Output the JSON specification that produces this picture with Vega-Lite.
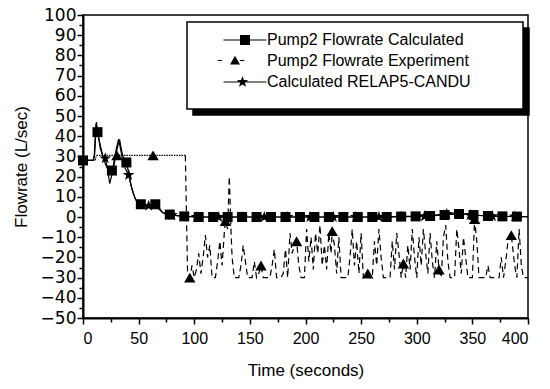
{
  "$schema": "https://vega.github.io/schema/vega-lite/v6.json",
  "width": 445,
  "height": 303,
  "autosize": {"type": "none"},
  "padding": {"left": 83, "top": 15, "right": 22, "bottom": 71},
  "config": {
    "view": {"stroke": "black", "strokeWidth": 1.5},
    "font": "Liberation Sans",
    "legend": {"strokeWidth": 1.5}
  },
  "datasets": {
    "names": [
      {"s": "Pump2 Flowrate Calculated"},
      {"s": "Pump2 Flowrate Experiment"},
      {"s": "Calculated RELAP5-CANDU"}
    ],
    "calc": [
      {"t": 0, "v": 28, "m": 1}, {"t": 5, "v": 28, "m": 0}, {"t": 9, "v": 28, "m": 0}, {"t": 10, "v": 29, "m": 0},
      {"t": 11, "v": 40, "m": 0}, {"t": 11.7, "v": 46, "m": 0}, {"t": 13, "v": 42, "m": 1}, {"t": 15, "v": 37, "m": 0},
      {"t": 17, "v": 32, "m": 0}, {"t": 19, "v": 28, "m": 0}, {"t": 21, "v": 25, "m": 0}, {"t": 23, "v": 23.5, "m": 0},
      {"t": 26, "v": 23, "m": 1}, {"t": 28, "v": 26, "m": 0}, {"t": 30, "v": 32, "m": 0}, {"t": 32, "v": 37, "m": 0},
      {"t": 33, "v": 38, "m": 0}, {"t": 35, "v": 32, "m": 0}, {"t": 37, "v": 28, "m": 0}, {"t": 39, "v": 27, "m": 1},
      {"t": 41, "v": 22, "m": 0}, {"t": 43, "v": 16, "m": 0}, {"t": 45, "v": 12, "m": 0}, {"t": 47, "v": 9, "m": 0},
      {"t": 49, "v": 7, "m": 0}, {"t": 52, "v": 6.3, "m": 1}, {"t": 56, "v": 6, "m": 0}, {"t": 60, "v": 6, "m": 0},
      {"t": 63, "v": 6.3, "m": 0}, {"t": 65, "v": 6.3, "m": 1}, {"t": 67, "v": 6, "m": 0}, {"t": 69, "v": 4, "m": 0},
      {"t": 71, "v": 2.5, "m": 0}, {"t": 74, "v": 1.5, "m": 0}, {"t": 78, "v": 1.2, "m": 1}, {"t": 84, "v": 0.7, "m": 0},
      {"t": 91, "v": 0.3, "m": 1}, {"t": 104, "v": 0, "m": 1}, {"t": 117, "v": 0, "m": 1}, {"t": 130, "v": 0, "m": 1},
      {"t": 143, "v": 0, "m": 1}, {"t": 156, "v": 0, "m": 1}, {"t": 169, "v": 0, "m": 1}, {"t": 182, "v": 0, "m": 1},
      {"t": 195, "v": 0, "m": 1}, {"t": 208, "v": 0, "m": 1}, {"t": 221, "v": 0, "m": 1}, {"t": 234, "v": 0, "m": 1},
      {"t": 247, "v": 0, "m": 1}, {"t": 260, "v": 0, "m": 1}, {"t": 273, "v": 0, "m": 1}, {"t": 286, "v": 0.2, "m": 1},
      {"t": 299, "v": 0.3, "m": 1}, {"t": 312, "v": 0.5, "m": 1}, {"t": 325, "v": 1, "m": 1}, {"t": 338, "v": 1.5, "m": 1},
      {"t": 351, "v": 1, "m": 1}, {"t": 364, "v": 0.5, "m": 1}, {"t": 377, "v": 0.3, "m": 1}, {"t": 390, "v": 0.2, "m": 1},
      {"t": 400, "v": 0.2, "m": 0}
    ],
    "relap": [
      {"t": 0, "v": 28, "m": 0}, {"t": 9, "v": 28, "m": 0}, {"t": 10.5, "v": 31, "m": 0}, {"t": 12, "v": 47, "m": 0},
      {"t": 13.5, "v": 41, "m": 0}, {"t": 15.5, "v": 34, "m": 0}, {"t": 18, "v": 30, "m": 0}, {"t": 20, "v": 29, "m": 1},
      {"t": 22, "v": 24, "m": 0}, {"t": 24, "v": 16.5, "m": 0}, {"t": 26, "v": 21, "m": 0}, {"t": 28, "v": 28, "m": 0},
      {"t": 30, "v": 34, "m": 0}, {"t": 32, "v": 38.5, "m": 0}, {"t": 34, "v": 33, "m": 0}, {"t": 36, "v": 27, "m": 0},
      {"t": 38, "v": 24, "m": 0}, {"t": 41, "v": 20.8, "m": 1}, {"t": 44, "v": 14, "m": 0}, {"t": 47, "v": 9, "m": 0},
      {"t": 50, "v": 6.5, "m": 0}, {"t": 54, "v": 5.8, "m": 0}, {"t": 59, "v": 5.5, "m": 1}, {"t": 63, "v": 6.2, "m": 0},
      {"t": 66, "v": 5.5, "m": 0}, {"t": 69, "v": 3.5, "m": 0}, {"t": 72, "v": 2, "m": 0}, {"t": 80, "v": 1, "m": 1},
      {"t": 90, "v": 0.4, "m": 0}, {"t": 102, "v": 0, "m": 1}, {"t": 122, "v": 0, "m": 1}, {"t": 143, "v": 0, "m": 1},
      {"t": 163, "v": 0, "m": 1}, {"t": 184, "v": 0, "m": 1}, {"t": 204, "v": 0, "m": 1}, {"t": 225, "v": 0, "m": 1},
      {"t": 245, "v": 0, "m": 1}, {"t": 266, "v": 0, "m": 1}, {"t": 286, "v": 0.2, "m": 1}, {"t": 307, "v": 0.4, "m": 1},
      {"t": 327, "v": 1.5, "m": 1}, {"t": 334, "v": 2, "m": 0}, {"t": 340, "v": 1.5, "m": 0}, {"t": 348, "v": 1, "m": 1},
      {"t": 368, "v": 0.4, "m": 1}, {"t": 388, "v": 0.2, "m": 1}, {"t": 400, "v": 0.2, "m": 0}
    ],
    "exp": [
      {"t": 0, "v": 28, "m": 0}, {"t": 11, "v": 28, "m": 0}, {"t": 12, "v": 30.5, "m": 0}, {"t": 30.5, "v": 30.5, "m": 1},
      {"t": 63, "v": 30.5, "m": 1}, {"t": 92, "v": 30.5, "m": 0}, {"t": 94, "v": -28, "m": 0}, {"t": 96, "v": -30, "m": 1},
      {"t": 98, "v": -24, "m": 0}, {"t": 100, "v": -30, "m": 0}, {"t": 102, "v": -26, "m": 0}, {"t": 104, "v": -18, "m": 0},
      {"t": 106, "v": -28, "m": 0}, {"t": 108, "v": -20, "m": 0}, {"t": 110, "v": -9, "m": 0}, {"t": 112, "v": -20, "m": 0},
      {"t": 114, "v": -14, "m": 0}, {"t": 116, "v": -30, "m": 0}, {"t": 119, "v": -30, "m": 0}, {"t": 121, "v": -22, "m": 0},
      {"t": 123, "v": -12, "m": 0}, {"t": 125, "v": -24, "m": 0}, {"t": 127, "v": -8, "m": 0}, {"t": 128, "v": -2, "m": 1},
      {"t": 130, "v": -6, "m": 0}, {"t": 131.5, "v": 20, "m": 0}, {"t": 133, "v": -6, "m": 0}, {"t": 134, "v": -20, "m": 0},
      {"t": 136, "v": -30, "m": 0}, {"t": 140, "v": -30, "m": 0}, {"t": 142, "v": -24, "m": 0}, {"t": 144, "v": -14, "m": 0},
      {"t": 146, "v": -22, "m": 0}, {"t": 148, "v": -30, "m": 0}, {"t": 152, "v": -30, "m": 0}, {"t": 154, "v": -22, "m": 0},
      {"t": 156, "v": -30, "m": 0}, {"t": 158, "v": -28, "m": 0}, {"t": 160, "v": -24, "m": 1}, {"t": 162, "v": -30, "m": 0},
      {"t": 168, "v": -30, "m": 0}, {"t": 170, "v": -24, "m": 0}, {"t": 172, "v": -16, "m": 0}, {"t": 174, "v": -30, "m": 0},
      {"t": 178, "v": -30, "m": 0}, {"t": 180, "v": -28, "m": 0}, {"t": 182, "v": -16, "m": 0}, {"t": 184, "v": -30, "m": 0},
      {"t": 186, "v": -8, "m": 0}, {"t": 188, "v": -18, "m": 0}, {"t": 190, "v": -14, "m": 0}, {"t": 192, "v": -12, "m": 1},
      {"t": 194, "v": -24, "m": 0}, {"t": 196, "v": -30, "m": 0}, {"t": 199, "v": -30, "m": 0}, {"t": 201, "v": -6, "m": 0},
      {"t": 203, "v": -22, "m": 0}, {"t": 205, "v": -10, "m": 0}, {"t": 207, "v": -26, "m": 0}, {"t": 209, "v": -8, "m": 0},
      {"t": 211, "v": -18, "m": 0}, {"t": 213, "v": -4, "m": 0}, {"t": 215, "v": -24, "m": 0}, {"t": 217, "v": -14, "m": 0},
      {"t": 219, "v": -26, "m": 0}, {"t": 221, "v": -8, "m": 0}, {"t": 223, "v": -18, "m": 0}, {"t": 224, "v": -7, "m": 1},
      {"t": 226, "v": -14, "m": 0}, {"t": 228, "v": -28, "m": 0}, {"t": 230, "v": -10, "m": 0}, {"t": 232, "v": -30, "m": 0},
      {"t": 238, "v": -30, "m": 0}, {"t": 240, "v": -20, "m": 0}, {"t": 242, "v": -6, "m": 0}, {"t": 244, "v": -24, "m": 0},
      {"t": 246, "v": -12, "m": 0}, {"t": 248, "v": -28, "m": 0}, {"t": 250, "v": -8, "m": 0}, {"t": 252, "v": -30, "m": 0},
      {"t": 256, "v": -28, "m": 1}, {"t": 258, "v": -30, "m": 0}, {"t": 260, "v": -30, "m": 0}, {"t": 262, "v": -12, "m": 0},
      {"t": 264, "v": -24, "m": 0}, {"t": 266, "v": -6, "m": 0}, {"t": 268, "v": -20, "m": 0}, {"t": 270, "v": -30, "m": 0},
      {"t": 276, "v": -30, "m": 0}, {"t": 278, "v": -12, "m": 0}, {"t": 280, "v": -26, "m": 0}, {"t": 282, "v": -8, "m": 0},
      {"t": 284, "v": -18, "m": 0}, {"t": 286, "v": -30, "m": 0}, {"t": 288, "v": -23, "m": 1}, {"t": 290, "v": -30, "m": 0},
      {"t": 292, "v": -14, "m": 0}, {"t": 294, "v": -26, "m": 0}, {"t": 296, "v": -6, "m": 0}, {"t": 298, "v": -20, "m": 0},
      {"t": 300, "v": -30, "m": 0}, {"t": 302, "v": -10, "m": 0}, {"t": 304, "v": -24, "m": 0}, {"t": 306, "v": -6, "m": 0},
      {"t": 308, "v": -18, "m": 0}, {"t": 310, "v": -28, "m": 0}, {"t": 312, "v": -8, "m": 0}, {"t": 314, "v": -22, "m": 0},
      {"t": 316, "v": -30, "m": 0}, {"t": 318, "v": -12, "m": 0}, {"t": 320, "v": -26, "m": 1}, {"t": 322, "v": -30, "m": 0},
      {"t": 324, "v": -10, "m": 0}, {"t": 326, "v": -4, "m": 0}, {"t": 328, "v": -22, "m": 0}, {"t": 330, "v": -30, "m": 0},
      {"t": 334, "v": -30, "m": 0}, {"t": 336, "v": -6, "m": 0}, {"t": 338, "v": -16, "m": 0}, {"t": 340, "v": -28, "m": 0},
      {"t": 342, "v": -10, "m": 0}, {"t": 344, "v": -20, "m": 0}, {"t": 346, "v": -30, "m": 0}, {"t": 350, "v": -30, "m": 0},
      {"t": 352, "v": -1, "m": 1}, {"t": 354, "v": -12, "m": 0}, {"t": 356, "v": -30, "m": 0}, {"t": 362, "v": -30, "m": 0},
      {"t": 364, "v": -24, "m": 0}, {"t": 366, "v": -30, "m": 0}, {"t": 374, "v": -30, "m": 0}, {"t": 376, "v": -20, "m": 0},
      {"t": 378, "v": -30, "m": 0}, {"t": 380, "v": -22, "m": 0}, {"t": 382, "v": -12, "m": 0}, {"t": 384, "v": -8, "m": 0},
      {"t": 385, "v": -9, "m": 1}, {"t": 386, "v": -14, "m": 0}, {"t": 388, "v": -24, "m": 0}, {"t": 390, "v": -30, "m": 0},
      {"t": 392, "v": -6, "m": 0}, {"t": 394, "v": -24, "m": 0}, {"t": 396, "v": -30, "m": 0}, {"t": 400, "v": -30, "m": 0}
    ]
  },
  "layer": [
    {
      "data": {"name": "names"},
      "mark": {"type": "point", "filled": true, "opacity": 0, "color": "black"},
      "encoding": {
        "shape": {
          "field": "s", "type": "nominal",
          "scale": {
            "domain": ["Pump2 Flowrate Calculated", "Pump2 Flowrate Experiment", "Calculated RELAP5-CANDU"],
            "range": [
              "M-4.3,-0.12H4.3V0.12H-4.3ZM-1,-1H1V1H-1ZM53,0",
              "M-5.5,-0.12H-4.6V0.12H-5.5ZM-1.05,-0.12H-0.15V0.12H-1.05ZM-2,-0.95L-1,0.8L-3,0.8ZM53,0",
              "M-4.3,-0.12H4.3V0.12H-4.3ZM-0.5,-1.2L-0.218,-0.389L0.641,-0.371L-0.044,0.149L0.206,0.971L-0.5,0.48L-1.206,0.971L-0.956,0.149L-1.641,-0.371L-0.782,-0.389ZM53,0M0,2.8"
            ]
          },
          "legend": {
            "orient": "none", "legendX": 110, "legendY": 13, "title": null, "zindex": 1,
            "fillColor": "black", "strokeColor": "black", "padding": 10, "rowPadding": 4.5,
            "symbolSize": 100, "symbolOpacity": 1,
            "symbolFillColor": "black", "symbolStrokeColor": "black",
            "symbolOffset": 40, "labelOffset": 14,
            "labelFontSize": 16, "labelFont": "Liberation Sans", "labelColor": "black", "labelLimit": 400
          }
        }
      }
    },
    {
      "data": {"name": "names"},
      "mark": {"type": "point", "filled": true, "opacity": 0, "color": "black"},
      "encoding": {
        "shape": {
          "field": "s", "type": "nominal",
          "scale": {
            "domain": ["Pump2 Flowrate Calculated", "Pump2 Flowrate Experiment", "Calculated RELAP5-CANDU"],
            "range": [
              "M-4.3,-0.12H4.3V0.12H-4.3ZM-1,-1H1V1H-1ZM53,0",
              "M-5.5,-0.12H-4.6V0.12H-5.5ZM-1.05,-0.12H-0.15V0.12H-1.05ZM-2,-0.95L-1,0.8L-3,0.8ZM53,0",
              "M-4.3,-0.12H4.3V0.12H-4.3ZM-0.5,-1.2L-0.218,-0.389L0.641,-0.371L-0.044,0.149L0.206,0.971L-0.5,0.48L-1.206,0.971L-0.956,0.149L-1.641,-0.371L-0.782,-0.389ZM53,0M0,2.8"
            ]
          },
          "legend": {
            "orient": "none", "legendX": 104, "legendY": 7, "title": null, "zindex": 2,
            "fillColor": "white", "strokeColor": "black", "padding": 10, "rowPadding": 4.5,
            "symbolSize": 100, "symbolOpacity": 1,
            "symbolFillColor": "black", "symbolStrokeColor": "black",
            "symbolOffset": 40, "labelOffset": 14,
            "labelFontSize": 16, "labelFont": "Liberation Sans", "labelColor": "black", "labelLimit": 400
          }
        }
      }
    },
    {
      "data": {"name": "calc"},
      "mark": {"type": "line", "color": "black", "strokeWidth": 1.2},
      "encoding": {
        "x": {"field": "t", "type": "quantitative", "scale": {"domain": [0, 400], "nice": false},
          "axis": {"orient": "bottom", "values": [0, 50, 100, 150, 200, 250, 300, 350, 400], "grid": false,
            "tickSize": 6, "tickWidth": 1.5, "tickColor": "black", "domainColor": "black", "domainWidth": 2,
            "labelFontSize": 16, "labelFont": "Liberation Sans", "labelColor": "black", "labelPadding": 6,
            "title": "Time (seconds)", "titleFontSize": 17, "titleFont": "Liberation Sans", "titleFontWeight": "normal",
            "titleColor": "black", "titlePadding": 16}},
        "y": {"field": "v", "type": "quantitative", "scale": {"domain": [-50, 100], "nice": false},
          "axis": {"orient": "left", "values": [-50, -40, -30, -20, -10, 0, 10, 20, 30, 40, 50, 60, 70, 80, 90, 100], "grid": false,
            "tickSize": 6, "tickWidth": 1.5, "tickColor": "black", "domainColor": "black", "domainWidth": 2,
            "labelFontSize": 17, "labelFont": "DejaVu Sans", "labelColor": "black", "labelPadding": 1,
            "title": "Flowrate (L/sec)", "titleFontSize": 17, "titleFont": "Liberation Sans", "titleFontWeight": "normal",
            "titleColor": "black", "titlePadding": 10}}
      }
    },
    {
      "data": {"name": "relap"},
      "mark": {"type": "line", "color": "black", "strokeWidth": 1.2},
      "encoding": {
        "x": {"field": "t", "type": "quantitative",
          "axis": {"orient": "bottom", "values": [25, 75, 125, 175, 225, 275, 325, 375], "grid": false,
            "tickSize": 4, "tickWidth": 1.5, "tickColor": "black", "domain": false, "labels": false, "title": null}},
        "y": {"field": "v", "type": "quantitative",
          "axis": {"orient": "left", "values": [-45, -35, -25, -15, -5, 5, 15, 25, 35, 45, 55, 65, 75, 85, 95], "grid": false,
            "tickSize": 4, "tickWidth": 1.5, "tickColor": "black", "domain": false, "labels": false, "title": null}}
      }
    },
    {
      "data": {"name": "exp"},
      "transform": [{"filter": "datum.t <= 92"}],
      "mark": {"type": "line", "color": "black", "strokeWidth": 1.2, "strokeDash": [1.5, 1]},
      "encoding": {
        "x": {"field": "t", "type": "quantitative", "axis": null},
        "y": {"field": "v", "type": "quantitative", "axis": null}
      }
    },
    {
      "data": {"name": "exp"},
      "transform": [{"filter": "datum.t >= 92"}],
      "mark": {"type": "line", "color": "black", "strokeWidth": 1.2, "strokeDash": [6, 4]},
      "encoding": {
        "x": {"field": "t", "type": "quantitative", "axis": null},
        "y": {"field": "v", "type": "quantitative", "axis": null}
      }
    },
    {
      "data": {"name": "calc"},
      "transform": [{"filter": "datum.m == 1"}],
      "mark": {"type": "point", "shape": "square", "filled": true, "color": "black", "opacity": 1, "size": 100},
      "encoding": {
        "x": {"field": "t", "type": "quantitative", "axis": null},
        "y": {"field": "v", "type": "quantitative", "axis": null}
      }
    },
    {
      "data": {"name": "relap"},
      "transform": [{"filter": "datum.m == 1"}],
      "mark": {"type": "point", "shape": "M0,-1L0.235,-0.324L0.951,-0.309L0.38,0.124L0.588,0.809L0,0.4L-0.588,0.809L-0.38,0.124L-0.951,-0.309L-0.235,-0.324Z", "filled": true, "color": "black", "opacity": 1, "size": 150},
      "encoding": {
        "x": {"field": "t", "type": "quantitative", "axis": null},
        "y": {"field": "v", "type": "quantitative", "axis": null}
      }
    },
    {
      "data": {"name": "exp"},
      "transform": [{"filter": "datum.m == 1"}],
      "mark": {"type": "point", "shape": "triangle-up", "filled": true, "color": "black", "opacity": 1, "size": 130},
      "encoding": {
        "x": {"field": "t", "type": "quantitative", "axis": null},
        "y": {"field": "v", "type": "quantitative", "axis": null}
      }
    }
  ],
  "resolve": {
    "scale": {"shape": "independent"},
    "legend": {"shape": "independent"},
    "axis": {"x": "independent", "y": "independent"}
  }
}
